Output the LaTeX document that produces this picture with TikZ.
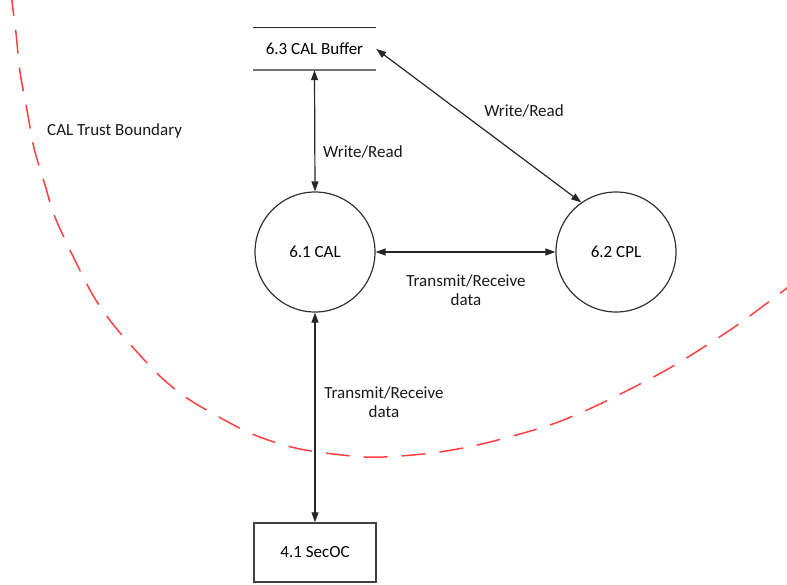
\documentclass[tikz,border=0pt]{standalone}
\usepackage{fontspec}
\setmainfont{Carlito}
\usetikzlibrary{arrows.meta}
\definecolor{bndred}{RGB}{255,64,64}
\begin{document}
\begin{tikzpicture}[x=1pt,y=-1pt,
  font=\fontsize{17}{19}\selectfont,
  proc/.style={circle, draw=black!80, line width=1.2pt, minimum size=120pt, inner sep=0pt},
  ext/.style={rectangle, draw=black!75, line width=1.5pt, minimum width=122pt, minimum height=59pt},
  store/.style={minimum width=123pt, minimum height=42pt, inner sep=0pt},
  flow/.style={{Triangle[length=10pt,width=7pt]}-{Triangle[length=10pt,width=7pt]}, line width=1.2pt, draw=black!85},
  lbl/.style={align=center, inner sep=0pt, text=black!90},
  boundary/.style={draw=bndred, line width=1.5pt, dash pattern=on 24pt off 14pt}]
\useasboundingbox (0,0) rectangle (787,584);

% trust boundary arc
\begin{scope}
\clip (0,0) rectangle (787,584);
\draw[boundary] plot[smooth] coordinates {
  (11,-8) (13,10) (16,33) (20,72) (27,110) (34,148) (45,185) (57,222)
  (90,290) (112,323) (137,352) (163,379) (193,402) (250,433) (300,449)
  (365,457) (413,455) (452,450) (490,442) (550,425) (600,404) (668,369)
  (733,328) (787,288) (800,278)};
\end{scope}

% data store
\node[store] (buf) at (314.5,49) {6.3 CAL Buffer};
\draw[line width=1.2pt, black!85] (buf.north west) -- (buf.north east);
\draw[line width=2pt, black!55] (buf.south west) -- (buf.south east);

% processes and external entity
\node[proc] (cal) at (315,252) {6.1 CAL};
\node[proc] (cpl) at (616,252) {6.2 CPL};
\node[ext] (sec) at (315,552.5) {4.1 SecOC};

% labels
\node[lbl, anchor=west] (lwr1) at (323,152) {Write/Read};
\node[lbl] (lwr2) at (524,111) {Write/Read};
\node[lbl] (ltr1) at (466,290) {Transmit/Receive\\data};
\node[lbl] (ltr2) at (384,402) {Transmit/Receive\\data};
\node[lbl, anchor=west] (ltb) at (47,131) {CAL Trust Boundary};

% data flows
\draw[flow] (buf.south) -- (cal.north);
\draw[flow] (buf.east) -- (cpl.125);
\draw[flow] (cal.east) -- (cpl.west);
\draw[flow] (cal.south) -- (sec.north);
\end{tikzpicture}
\end{document}
